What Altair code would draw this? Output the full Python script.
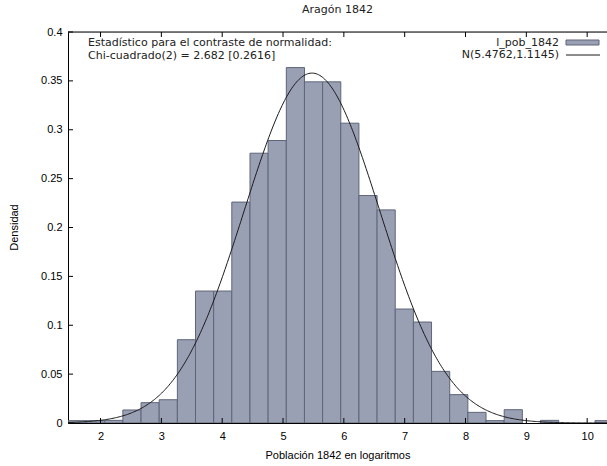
import altair as alt
import numpy as np
import pandas as pd

# ---- data ----
bin_left = [1.472, 1.770, 2.069, 2.367, 2.666, 2.964, 3.263, 3.561, 3.860, 4.158,
            4.457, 4.755, 5.054, 5.352, 5.651, 5.949, 6.248, 6.546, 6.845, 7.143,
            7.442, 7.740, 8.039, 8.337, 8.636, 8.934, 9.233, 9.531, 9.830, 10.128]
bin_width = 0.2985
density = [0.0024, 0.0024, 0.0027, 0.0133, 0.0208, 0.0238, 0.0852, 0.1350, 0.1350, 0.2260,
           0.2760, 0.2890, 0.3636, 0.3490, 0.3490, 0.3067, 0.2327, 0.2180, 0.1166, 0.1033,
           0.0528, 0.0290, 0.0109, 0.0024, 0.0136, 0.0, 0.0027, 0.0, 0.0, 0.0024]
mu, sigma = 5.4762, 1.1145
x_ticks = [2, 3, 4, 5, 6, 7, 8, 9, 10]
y_ticks = [0, 0.05, 0.1, 0.15, 0.2, 0.25, 0.3, 0.35, 0.4]
stat_lines = ["Estadístico para el contraste de normalidad:",
              "Chi-cuadrado(2) = 2.682 [0.2616]"]
legend_labels = ["l_pob_1842", "N(5.4762,1.1145)"]

FONT = "DejaVu Sans"
FS = 11
W, H = 539, 391
x_dom = [1.465, 10.326]

bars = pd.DataFrame({"x": bin_left, "d": density})
bars["x2"] = bars["x"] + bin_width
bars = bars[bars["d"] > 0]

xs = np.arange(x_dom[0], x_dom[1] + 0.001, 0.02)
curve = pd.DataFrame({"x": xs,
                      "d": np.exp(-0.5 * ((xs - mu) / sigma) ** 2) / (sigma * np.sqrt(2 * np.pi))})

xscale = alt.Scale(domain=x_dom, nice=False, zero=False)
yscale = alt.Scale(domain=[0, 0.4], nice=False)
xaxis = alt.Axis(values=x_ticks, ticks=False, grid=False, domainColor="black",
                 labelPadding=7, labelFontSize=FS, title="Población 1842 en logaritmos",
                 titleY=32, titleBaseline="middle", titleFontWeight="normal", titleFontSize=FS)
yaxis = alt.Axis(values=y_ticks, ticks=False, grid=False, domainColor="black", format="~g",
                 labelPadding=6, labelFontSize=FS, title="Densidad", titleX=-54, titleY=195,
                 titleBaseline="middle", titleFontWeight="normal", titleFontSize=FS)

def X(f="x"):
    return alt.X(f"{f}:Q", scale=xscale, axis=xaxis)

def Y(f="d"):
    return alt.Y(f"{f}:Q", scale=yscale, axis=yaxis)

bar_layer = alt.Chart(bars).mark_rect(fill="#9aa0b4", stroke="#5f6579", strokeWidth=1, clip=True).encode(
    x=X(), x2="x2:Q", y=Y(), y2=alt.datum(0))

curve_layer = alt.Chart(curve).mark_line(color="#1a1a1a", strokeWidth=1, clip=True).encode(
    x=X(), y=Y())

one = pd.DataFrame({"a": [0]})
top_border = alt.Chart(one).mark_rule(color="black", strokeWidth=1).encode(
    x=alt.value(0), x2=alt.value(W), y=alt.value(0))

xt = pd.DataFrame({"x": x_ticks})
top_ticks = alt.Chart(xt).mark_rule(color="black").encode(x=X(), y=alt.value(0), y2=alt.value(5))
bot_ticks = alt.Chart(xt).mark_rule(color="black").encode(x=X(), y=alt.value(H), y2=alt.value(H - 5))
yt = pd.DataFrame({"d": y_ticks})
left_ticks = alt.Chart(yt).mark_rule(color="black").encode(y=Y(), x=alt.value(0), x2=alt.value(5))

stat_df = pd.DataFrame({"t": stat_lines, "py": [11, 24]})
stat_text = alt.Chart(stat_df).mark_text(align="left", baseline="middle", font=FONT, fontSize=FS,
                                         color="#222").encode(
    x=alt.value(20), y=alt.Y("py:Q", scale=None), text="t:N")

leg_df = pd.DataFrame({"t": legend_labels, "py": [10.5, 23]})
leg_text = alt.Chart(leg_df).mark_text(align="right", baseline="middle", font=FONT, fontSize=FS,
                                       color="#222").encode(
    x=alt.value(491), y=alt.Y("py:Q", scale=None), text="t:N")
leg_swatch = alt.Chart(one).mark_rect(fill="#9aa0b4", stroke="#5f6579", strokeWidth=1).encode(
    x=alt.value(498), x2=alt.value(531), y=alt.value(8), y2=alt.value(13))
leg_line = alt.Chart(one).mark_rule(color="#1a1a1a", strokeWidth=1).encode(
    x=alt.value(498), x2=alt.value(532), y=alt.value(23))

chart = alt.layer(bar_layer, curve_layer, top_border, top_ticks, bot_ticks, left_ticks,
                  stat_text, leg_text, leg_swatch, leg_line).properties(
    width=W, height=H,
    title=alt.Title("Aragón 1842", fontSize=FS, fontWeight="normal", font=FONT, color="#222",
                    offset=11, anchor="middle"),
    padding={"left": 68, "top": 32, "right": 0, "bottom": 43},
    autosize=alt.AutoSizeParams(type="none"),
).configure_view(stroke=None).configure_axis(
    labelFont=FONT, titleFont=FONT, labelColor="#222", titleColor="#222"
).configure(background="white")

chart.save("out.html", embed_options={"renderer": "svg", "actions": False})
